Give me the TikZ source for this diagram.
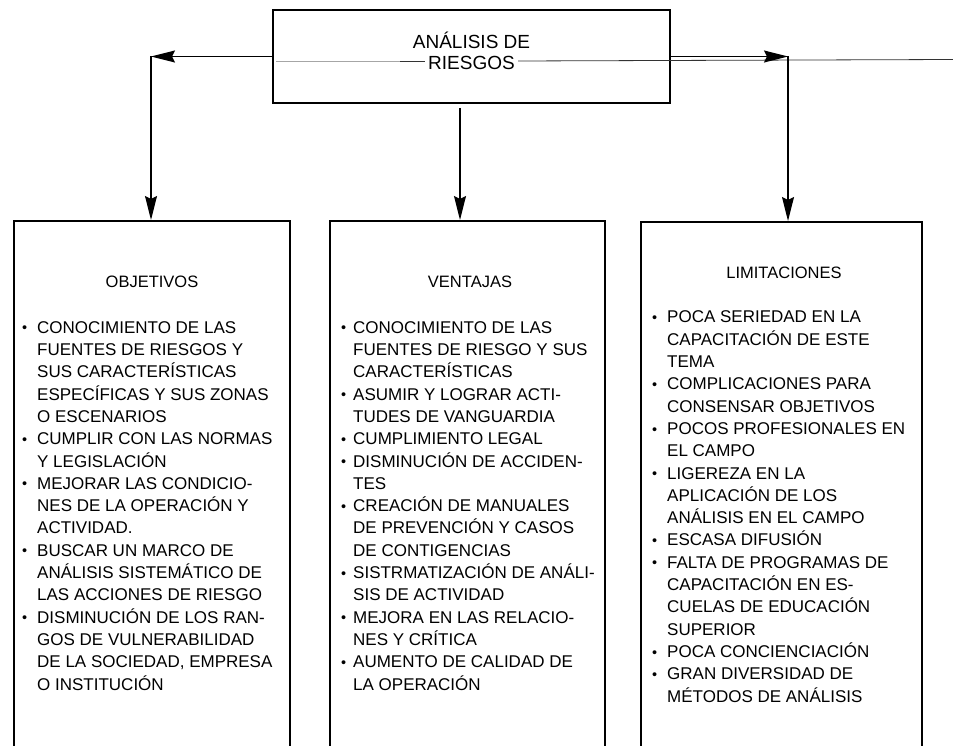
\documentclass[tikz,border=0pt]{standalone}
\usepackage{fontspec}
\setmainfont{Liberation Sans}
\usetikzlibrary{arrows.meta}

% bullet lines and their continuation lines
\newlength\bulw
\newcommand\bi[1]{\makebox[\bulw][l]{\raisebox{0.4pt}{\scalebox{0.85}{•}}}#1}
\newcommand\ci[1]{\hspace*{\bulw}#1}

\tikzset{
  hdrbox/.style={draw, line width=1.8pt, minimum width=397pt, minimum height=93pt, inner sep=0pt},
  hdrtext/.style={inner sep=0pt, align=center, font=\fontsize{19}{21}\selectfont},
  colbox/.style={draw, line width=1.6pt, minimum height=560pt, inner sep=0pt, anchor=north},
  conn/.style={line width=1.4pt, -{Stealth[length=24pt,width=12pt,inset=3pt]}},
  ttl/.style={inner sep=0pt, font=\fontsize{16.5}{20}\selectfont},
  lst/.style={anchor=north west, inner sep=0pt, align=left, font=\fontsize{17}{22.3}\selectfont},
  hairline/.style={line width=0.8pt},
}

\begin{document}
\begin{tikzpicture}[x=1pt, y=-1pt]
\clip (0,0) rectangle (953,746);
\fill[white] (0,0) rectangle (953,746);

% header box
\node[hdrbox] (top) at (471.5,56.5) {};

% thin rule running across the header level, broken by the word
\draw[hairline, black!35] (276,61) -- (400,61);
\draw[hairline, black!80] (400,61) -- (425,61);
\draw[hairline, black!80] (518,61) -- (953,59.5);

\node[hdrtext] (toptext) at (471.5,50.5) {ANÁLISIS DE\\RIESGOS};

% the three columns (open at the bottom edge)
\node[colbox, minimum width=276pt] (colA) at (152,220) {};
\node[colbox, minimum width=275pt] (colB) at (467.5,220) {};
\node[colbox, minimum width=281pt] (colC) at (781.5,221) {};

% connectors
\coordinate (lc) at (151,56.5);
\coordinate (rc) at (788,56.5);
\coordinate (mc) at (460,108);
\draw[conn] (top.west) -- (lc);
\draw[conn] (lc) -- (colA.north -| lc);
\draw[conn] (top.east) -- (rc);
\draw[conn] (rc) -- (colC.north -| rc);
\draw[conn] (mc) -- (colB.north -| mc);

% column titles
\node[ttl] (tA) at (152,282) {OBJETIVOS};
\node[ttl] (tB) at (470,282) {VENTAJAS};
\node[ttl] (tC) at (784,273) {LIMITACIONES};

% column lists
\global\bulw=15pt
\node[lst] (lA) at (22,316) {\rule{0pt}{17pt}%
\bi{CONOCIMIENTO DE LAS}\\
\ci{FUENTES DE RIESGOS Y}\\
\ci{SUS CARACTERÍSTICAS}\\
\ci{ESPECÍFICAS Y SUS ZONAS}\\
\ci{O ESCENARIOS}\\
\bi{CUMPLIR CON LAS NORMAS}\\
\ci{Y LEGISLACIÓN}\\
\bi{MEJORAR LAS CONDICIO-}\\
\ci{NES DE LA OPERACIÓN Y}\\
\ci{ACTIVIDAD.}\\
\bi{BUSCAR UN MARCO DE}\\
\ci{ANÁLISIS SISTEMÁTICO DE}\\
\ci{LAS ACCIONES DE RIESGO}\\
\bi{DISMINUCIÓN DE LOS RAN-}\\
\ci{GOS DE VULNERABILIDAD}\\
\ci{DE LA SOCIEDAD, EMPRESA}\\
\ci{O INSTITUCIÓN}};

\global\bulw=12pt
\node[lst] (lB) at (341,316) {\rule{0pt}{17pt}%
\bi{CONOCIMIENTO DE LAS}\\
\ci{FUENTES DE RIESGO Y SUS}\\
\ci{CARACTERÍSTICAS}\\
\bi{ASUMIR Y LOGRAR ACTI-}\\
\ci{TUDES DE VANGUARDIA}\\
\bi{CUMPLIMIENTO LEGAL}\\
\bi{DISMINUCIÓN DE ACCIDEN-}\\
\ci{TES}\\
\bi{CREACIÓN DE MANUALES}\\
\ci{DE PREVENCIÓN Y CASOS}\\
\ci{DE CONTIGENCIAS}\\
\bi{SISTRMATIZACIÓN DE ANÁLI-}\\
\ci{SIS DE ACTIVIDAD}\\
\bi{MEJORA EN LAS RELACIO-}\\
\ci{NES Y CRÍTICA}\\
\bi{AUMENTO DE CALIDAD DE}\\
\ci{LA OPERACIÓN}};

\global\bulw=15pt
\node[lst] (lC) at (652,305.7) {\rule{0pt}{17pt}%
\bi{POCA SERIEDAD EN LA}\\
\ci{CAPACITACIÓN DE ESTE}\\
\ci{TEMA}\\
\bi{COMPLICACIONES PARA}\\
\ci{CONSENSAR OBJETIVOS}\\
\bi{POCOS PROFESIONALES EN}\\
\ci{EL CAMPO}\\
\bi{LIGEREZA EN LA}\\
\ci{APLICACIÓN DE LOS}\\
\ci{ANÁLISIS EN EL CAMPO}\\
\bi{ESCASA DIFUSIÓN}\\
\bi{FALTA DE PROGRAMAS DE}\\
\ci{CAPACITACIÓN EN ES-}\\
\ci{CUELAS DE EDUCACIÓN}\\
\ci{SUPERIOR}\\
\bi{POCA CONCIENCIACIÓN}\\
\bi{GRAN DIVERSIDAD DE}\\
\ci{MÉTODOS DE ANÁLISIS}};
\end{tikzpicture}
\end{document}
